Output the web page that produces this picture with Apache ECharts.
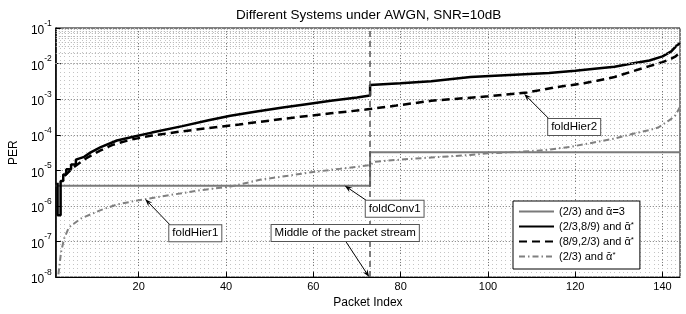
<!DOCTYPE html>
<html>
<head>
<meta charset="utf-8">
<script src="https://cdn.jsdelivr.net/npm/echarts@6/dist/echarts.min.js"></script>
<style>
html, body { margin: 0; padding: 0; background: #fff; }
#chart { width: 686px; height: 314px; }
</style>
</head>
<body>
<div id="chart"></div>
<script>
// values: packet index -> PER
const conv1Idx = [1, 73, 73, 144];
const conv1Per = [3.7e-6, 3.7e-6, 3.25e-5, 3.25e-5];

const hier2Idx = [1.4, 1.4, 2.1, 2.1, 2.7, 2.7, 3.4, 3.4, 4.5, 4.5, 5.6, 5.6, 7.5, 9, 11.3, 15, 19, 23, 30, 36,
  41, 47, 53, 58, 64, 70, 73, 73, 80, 87, 96, 105, 114, 120, 125, 129, 133, 137, 140, 142, 143, 144];
const hier2Per = [4.5e-6, 5.5e-7, 5.5e-7, 5e-6, 5e-6, 7.7e-6, 7.7e-6, 1.07e-5, 1.07e-5, 1.45e-5, 1.45e-5, 2e-5, 2.4e-5, 3.2e-5, 4.5e-5, 6.9e-5, 8.9e-5, 1.15e-4, 1.75e-4, 2.55e-4,
  3.4e-4, 4.5e-4, 5.8e-4, 7.1e-4, 9e-4, 1.12e-3, 1.26e-3, 2.5e-3, 2.8e-3, 3.2e-3, 4.2e-3, 4.8e-3, 5.4e-3, 6.3e-3, 7.3e-3, 8.1e-3, 1e-2, 1.22e-2, 1.6e-2, 2.2e-2, 3e-2, 3.8e-2];

const hier3Idx = [3, 5, 8, 11, 14, 18, 23, 30, 36, 43, 50, 57, 64, 72, 79, 87, 96, 100, 109, 116, 122, 125, 129, 133, 137, 140, 142, 143, 144];
const hier3Per = [7e-6, 1.2e-5, 2.2e-5, 3.5e-5, 5.2e-5, 7.2e-5, 9.5e-5, 1.25e-4, 1.55e-4, 1.95e-4, 2.5e-4, 3.2e-4, 4e-4, 5.1e-4, 6.6e-4, 9e-4, 1.1e-3, 1.2e-3, 1.55e-3, 2.2e-3, 2.8e-3, 3.3e-3, 4.2e-3, 6e-3, 8.5e-3, 1.1e-2, 1.37e-2, 1.6e-2, 2e-2];

const hier1Idx = [1.6, 2.2, 2.9, 4, 6.7, 11, 15, 20, 27, 34, 41, 48, 55, 60, 66, 71, 73, 74, 80, 87, 96, 100, 107, 113, 119, 124, 129, 133, 137, 139, 141, 142, 143, 144];
const hier1Per = [1.2e-8, 5e-8, 1.2e-7, 2.5e-7, 4.4e-7, 7.4e-7, 1.1e-6, 1.45e-6, 2e-6, 2.75e-6, 3.5e-6, 5.5e-6, 7.3e-6, 9e-6, 1.1e-5, 1.3e-5, 1.4e-5, 1.75e-5, 2e-5, 2.3e-5, 2.7e-5, 3e-5, 3.3e-5, 3.7e-5, 4.6e-5, 6e-5, 7.8e-5, 1.05e-4, 1.35e-4, 1.6e-4, 2.3e-4, 2.8e-4, 3.6e-4, 6e-4];

const seriesNames = ['(2/3) and ᾱ=3', '(2/3,8/9) and ᾱ*', '(8/9,2/3) and ᾱ*', '(2/3) and ᾱ*'];
const xTicks = [20, 40, 60, 80, 100, 120, 140];
const decades = [-8, -7, -6, -5, -4, -3, -2];
const middleIndex = 73;

const pairs = (xs, ys) => xs.map((x, i) => [x, ys[i]]);

// log minor grid 2..9 in every decade
const minorVals = [];
decades.forEach(d => { for (let k = 2; k <= 9; k++) minorVals.push(k * Math.pow(10, d)); });

const font = 'Liberation Sans';
let myChart = echarts.init(document.getElementById('chart'));

const option = {
  animation: false,
  textStyle: { fontFamily: font, color: '#000' },
  title: {
    text: 'Different Systems under AWGN, SNR=10dB',
    left: 236, top: 8, padding: 0,
    textStyle: { fontSize: 13.5, fontWeight: 'normal', color: '#000', fontFamily: font }
  },
  grid: { left: 55, right: 6, top: 28, bottom: 27, show: true, borderColor: '#000', borderWidth: 1, backgroundColor: '#fff' },
  legend: {
    data: seriesNames,
    orient: 'vertical',
    left: 513, top: 201,
    padding: [5, 6, 7, 5],
    itemGap: 4,
    itemWidth: 35, itemHeight: 11,
    backgroundColor: '#fff',
    borderColor: '#000', borderWidth: 1,
    itemStyle: { opacity: 0 },
    formatter: name => name.replace('*', '{sup|*}'),
    textStyle: {
      fontSize: 11, color: '#000', fontFamily: font,
      rich: { sup: { fontSize: 8, verticalAlign: 'top', lineHeight: 8, fontFamily: font } }
    }
  },
  xAxis: [{
    type: 'value', min: 1, max: 144,
    name: 'Packet Index', nameLocation: 'middle', nameGap: 13,
    nameTextStyle: { fontSize: 12, color: '#000' },
    axisLine: { lineStyle: { color: '#000' } },
    axisTick: { inside: true, length: 5, customValues: xTicks, lineStyle: { color: '#000' } },
    axisLabel: { customValues: xTicks, fontSize: 11, color: '#000', margin: 4 },
    splitLine: { show: true, lineStyle: { color: '#777', type: [1, 2], width: 1 } }
  }, {
    // per-packet minor grid
    type: 'value', min: 1, max: 144, interval: 1, position: 'top',
    axisLine: { show: false }, axisTick: { show: false }, axisLabel: { show: false },
    splitLine: { show: true, lineStyle: { color: '#c4c4c4', type: [1, 3], width: 1 } }
  }],
  yAxis: {
    type: 'log', logBase: 10, min: 1e-8, max: 1e-1,
    name: 'PER', nameLocation: 'middle', nameGap: 30,
    nameTextStyle: { fontSize: 12, color: '#000' },
    axisLine: { lineStyle: { color: '#000', width: 1.5 } },
    axisTick: { inside: true, length: 5, lineStyle: { color: '#000' } },
    axisLabel: {
      margin: 4,
      formatter: v => '{b|10}{s|' + Math.round(Math.log10(v)) + '}',
      rich: {
        b: { fontSize: 12, lineHeight: 18, verticalAlign: 'bottom', color: '#000', fontFamily: font },
        s: { fontSize: 8.5, lineHeight: 8, verticalAlign: 'top', color: '#000', fontFamily: font }
      }
    },
    splitLine: { show: true, lineStyle: { color: '#777', type: [1, 2], width: 1 } }
  },
  series: [
    {
      name: 'grid-minor', type: 'line', data: [], z: 1, silent: true,
      markLine: {
        silent: true, symbol: ['none', 'none'], label: { show: false },
        lineStyle: { color: '#aaa', type: [1, 2], width: 1 },
        data: minorVals.map(v => ({ yAxis: v }))
      }
    },
    {
      name: seriesNames[0], type: 'line', data: pairs(conv1Idx, conv1Per),
      symbol: 'none', color: '#7a7a7a', lineStyle: { width: 2, color: '#7a7a7a' }
    },
    {
      name: seriesNames[1], type: 'line', data: pairs(hier2Idx, hier2Per),
      symbol: 'none', color: '#000', lineStyle: { width: 2.5, color: '#000' }
    },
    {
      name: seriesNames[2], type: 'line', data: pairs(hier3Idx, hier3Per),
      symbol: 'none', color: '#000', lineStyle: { width: 2.5, color: '#000', type: [8, 5] }
    },
    {
      name: seriesNames[3], type: 'line', data: pairs(hier1Idx, hier1Per),
      symbol: 'none', color: '#808080', lineStyle: { width: 2, color: '#808080', type: [6, 3, 1.5, 3] }
    },
    {
      name: 'middle', type: 'line', data: [], z: 3, silent: true,
      markLine: {
        silent: true, symbol: ['none', 'none'], label: { show: false },
        lineStyle: { color: '#555', type: [6, 4], width: 1.5 },
        data: [{ xAxis: middleIndex }]
      }
    }
  ]
};
myChart.setOption(option);

// text boxes with arrows, anchored on data points
const notes = [
  { text: 'foldHier1', at: [21.5, 1.55e-6], dx: 25, dy: 26, align: 'left', vAlign: 'top' },
  { text: 'foldConv1', at: [67.2, 3.7e-6], dx: 22, dy: 15, align: 'left', vAlign: 'top' },
  { text: 'Middle of the packet stream', at: [72.8, 1e-8], dx: -23, dy: -35, align: 'center', vAlign: 'bottom' },
  { text: 'foldHier2', at: [108.3, 1.4e-3], dx: 25, dy: 25, align: 'left', vAlign: 'top' }
];

function arrow(head, tail) {
  const a = Math.atan2(head[1] - tail[1], head[0] - tail[0]);
  const L = 8, W = 0.35;
  const p1 = [head[0] - L * Math.cos(a - W), head[1] - L * Math.sin(a - W)];
  const p2 = [head[0] - L * Math.cos(a + W), head[1] - L * Math.sin(a + W)];
  const n = [head[0] - L * 0.6 * Math.cos(a), head[1] - L * 0.6 * Math.sin(a)];
  return [
    { type: 'polyline', shape: { points: [tail, n] }, style: { stroke: '#000', lineWidth: 1 }, z: 10 },
    { type: 'polygon', shape: { points: [p1, head, p2, n] }, style: { fill: '#000' }, z: 10 }
  ];
}

const elements = [];
notes.forEach(nt => {
  const head = myChart.convertToPixel({ xAxisIndex: 0, yAxisIndex: 0 }, nt.at);
  const tail = [head[0] + nt.dx, head[1] + nt.dy];
  elements.push(...arrow(head, tail));
  elements.push({
    type: 'text', z: 11,
    x: tail[0] - 1,
    y: tail[1] + (nt.vAlign === 'top' ? 0 : -1),
    style: {
      text: nt.text, font: '11.5px ' + font, fill: '#000',
      align: nt.align, verticalAlign: nt.vAlign,
      backgroundColor: '#fff', borderColor: '#555', borderWidth: 1, padding: [2, 3]
    }
  });
});
myChart.setOption({ graphic: elements });
</script>
</body>
</html>
